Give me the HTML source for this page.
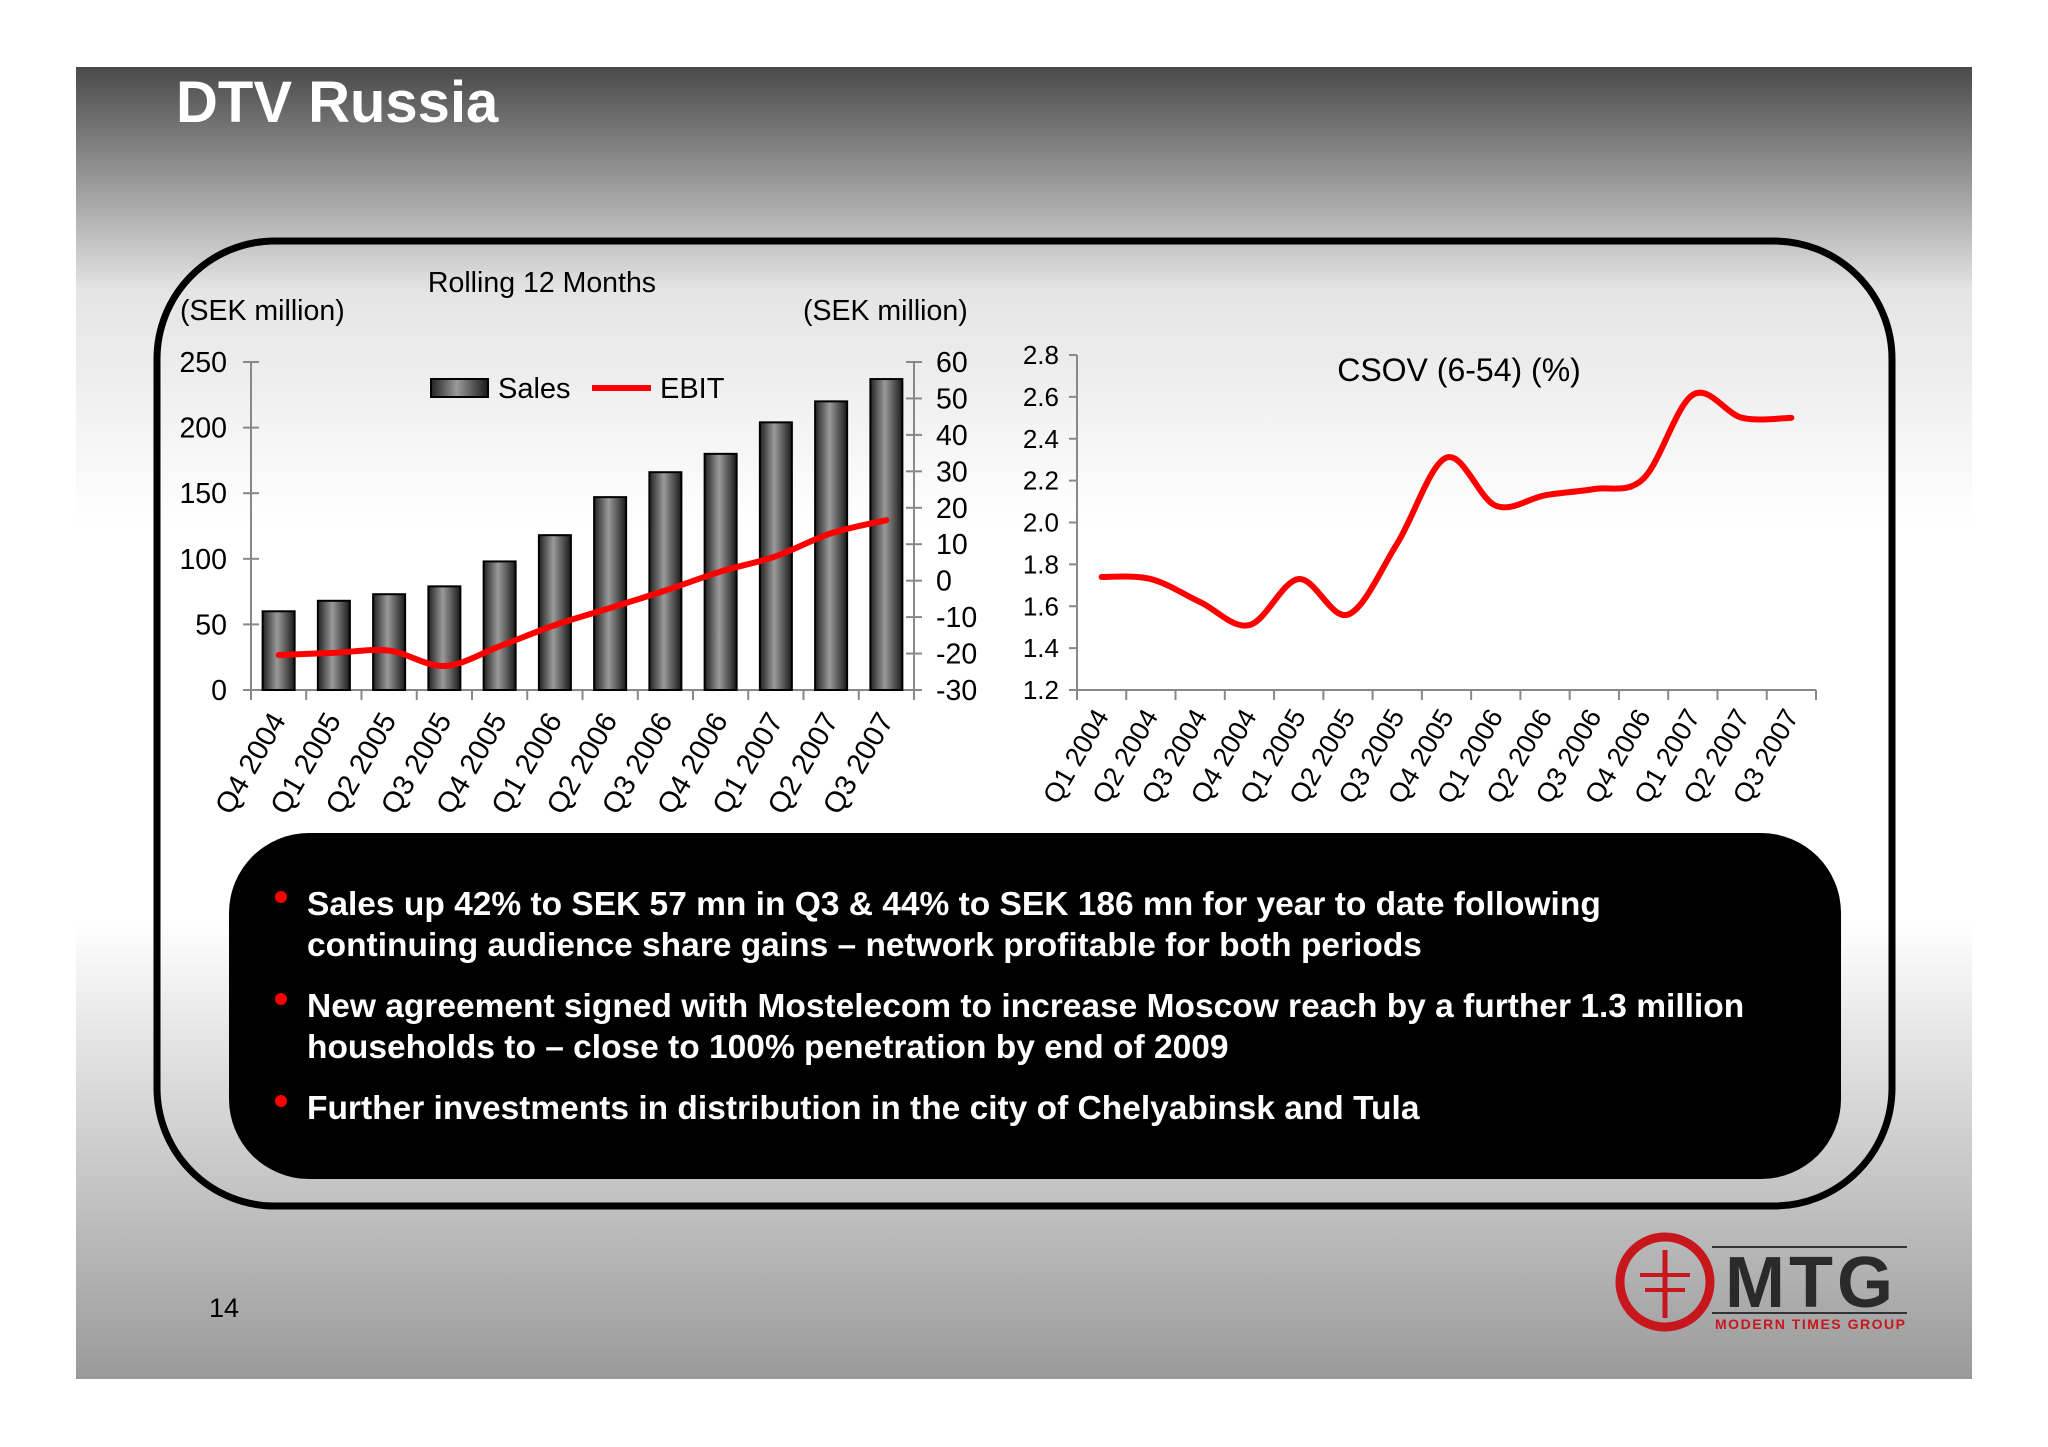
<!DOCTYPE html>
<html><head><meta charset="utf-8"><style>
html,body{margin:0;padding:0;background:#fff;}
svg{display:block;font-family:"Liberation Sans",Arial,sans-serif;}
</style></head><body>
<svg id="s" width="2048" height="1447" viewBox="0 0 2048 1447" xmlns="http://www.w3.org/2000/svg">
<defs>
<linearGradient id="bg" x1="0" y1="0" x2="0" y2="1">
<stop offset="0" stop-color="#4a4a4a"/><stop offset="0.17" stop-color="#e4e4e4"/><stop offset="0.35" stop-color="#fff"/><stop offset="0.65" stop-color="#fff"/><stop offset="1" stop-color="#9a9a9a"/>
</linearGradient>
<linearGradient id="bar" x1="0" y1="0" x2="1" y2="0">
<stop offset="0" stop-color="#222"/><stop offset="0.45" stop-color="#9a9a9a"/><stop offset="1" stop-color="#1a1a1a"/>
</linearGradient>
</defs>
<rect x="76" y="67" width="1896" height="1312" fill="url(#bg)"/>
<text x="176" y="122" font-size="58" font-weight="bold" fill="#fff">DTV Russia</text>
<rect x="157" y="241" width="1735" height="965" rx="118" fill="none" stroke="#000" stroke-width="7"/>

<g id="left">
<text x="542" y="292" font-size="28.5" text-anchor="middle">Rolling 12 Months</text>
<text x="180" y="320" font-size="28.5">(SEK million)</text>
<text x="803" y="320" font-size="28.5">(SEK million)</text>
<rect x="431" y="379" width="57" height="18" fill="url(#bar)" stroke="#000" stroke-width="2"/>
<text x="498" y="398" font-size="29">Sales</text>
<line x1="592" y1="388" x2="651" y2="388" stroke="#f00" stroke-width="6"/>
<text x="660" y="398" font-size="29">EBIT</text>
</g>
<g id="right">
<text x="1459" y="381" font-size="32" text-anchor="middle">CSOV (6-54) (%)</text>
</g>

<rect x="229" y="833" width="1612" height="346" rx="80" fill="#000"/>
<g font-size="33.5" font-weight="bold" fill="#fff">
<circle cx="281" cy="897" r="6" fill="#f00"/>
<text x="307" y="915">Sales up 42% to SEK 57 mn in Q3 &amp; 44% to SEK 186 mn for year to date following</text>
<text x="307" y="956">continuing audience share gains – network profitable for both periods</text>
<circle cx="281" cy="999" r="6" fill="#f00"/>
<text x="307" y="1017">New agreement signed with Mostelecom to increase Moscow reach by a further 1.3 million</text>
<text x="307" y="1058">households to – close to 100% penetration by end of 2009</text>
<circle cx="281" cy="1101" r="6" fill="#f00"/>
<text x="307" y="1119">Further investments in distribution in the city of Chelyabinsk and Tula</text>
</g>
<text x="209" y="1317" font-size="27">14</text>
<g>
<circle cx="1665" cy="1282" r="45" fill="none" stroke="#c8161d" stroke-width="9"/>
<line x1="1665" y1="1250" x2="1665" y2="1318" stroke="#c8161d" stroke-width="5"/>
<line x1="1640" y1="1275" x2="1690" y2="1275" stroke="#c8161d" stroke-width="4"/>
<line x1="1645" y1="1290" x2="1685" y2="1290" stroke="#c8161d" stroke-width="4"/>
<line x1="1712" y1="1247" x2="1907" y2="1247" stroke="#333" stroke-width="2"/>
<text x="1725" y="1307" font-size="72" font-weight="bold" fill="#2a2a2a" textLength="168">MTG</text>
<line x1="1712" y1="1313" x2="1907" y2="1313" stroke="#333" stroke-width="2"/>
<text x="1715" y="1329" font-size="14" font-weight="bold" fill="#c8161d" textLength="190">MODERN TIMES GROUP</text>
</g>
</svg>
<script>
const salesCats = ["Q4 2004","Q1 2005","Q2 2005","Q3 2005","Q4 2005","Q1 2006","Q2 2006","Q3 2006","Q4 2006","Q1 2007","Q2 2007","Q3 2007"];
const salesValues = [60,68,73,79,98,118,147,166,180,204,220,237];
const ebitValues = [-20.4,-19.8,-19.2,-23.4,-18,-12.2,-7.5,-2.7,2.5,6.7,13,16.6];
const salesTicks = [0,50,100,150,200,250];
const ebitTicks = [-30,-20,-10,0,10,20,30,40,50,60];
const csovCats = ["Q1 2004","Q2 2004","Q3 2004","Q4 2004","Q1 2005","Q2 2005","Q3 2005","Q4 2005","Q1 2006","Q2 2006","Q3 2006","Q4 2006","Q1 2007","Q2 2007","Q3 2007"];
const csovValues = [1.74,1.73,1.62,1.51,1.73,1.56,1.90,2.31,2.08,2.13,2.16,2.21,2.61,2.50,2.50];
const csovTicks = [1.2,1.4,1.6,1.8,2.0,2.2,2.4,2.6,2.8];

const NS="http://www.w3.org/2000/svg";
function mk(parent,tag,attrs,text){const e=document.createElementNS(NS,tag);for(const k in attrs)e.setAttribute(k,attrs[k]);if(text!==undefined)e.textContent=text;parent.appendChild(e);return e;}
function smooth(pts){let d="M"+pts[0][0]+","+pts[0][1];for(let i=0;i<pts.length-1;i++){const p0=pts[Math.max(0,i-1)],p1=pts[i],p2=pts[i+1],p3=pts[Math.min(pts.length-1,i+2)];const t=1/6;d+=" C"+(p1[0]+(p2[0]-p0[0])*t)+","+(p1[1]+(p2[1]-p0[1])*t)+" "+(p2[0]-(p3[0]-p1[0])*t)+","+(p2[1]-(p3[1]-p1[1])*t)+" "+p2[0]+","+p2[1];}return d;}

// left chart
const L=document.getElementById('left');
const lx0=251,lx1=914,ly0=690,ly1=362;
const band=(lx1-lx0)/salesCats.length;
const xL=i=>lx0+band*(i+0.5);
const yS=v=>ly0-(v-0)/(250-0)*(ly0-ly1);
const yE=v=>ly0-(v+30)/(90)*(ly0-ly1);
let a=mk(L,'line',{x1:lx0,y1:ly1,x2:lx0,y2:ly0,stroke:'#888','stroke-width':2});


a=mk(L,'line',{x1:lx1,y1:ly1,x2:lx1,y2:ly0,stroke:'#888','stroke-width':2});


a=mk(L,'line',{x1:lx0-8,y1:ly0,x2:lx1+8,y2:ly0,stroke:'#888','stroke-width':2});


salesTicks.forEach(v=>{const y=yS(v);mk(L,'line',{x1:lx0-8,y1:y,x2:lx0+8,y2:y,stroke:'#888','stroke-width':2});
const t=mk(L,'text',{x:lx0-24,y:y+10,'font-size':28.5,'text-anchor':'end'},String(v));

});
ebitTicks.forEach(v=>{const y=yE(v);mk(L,'line',{x1:lx1-8,y1:y,x2:lx1+8,y2:y,stroke:'#888','stroke-width':2});
const t=mk(L,'text',{x:lx1+22,y:y+10,'font-size':28.5},String(v));

});
for(let i=0;i<=salesCats.length;i++){const x=lx0+band*i;mk(L,'line',{x1:x,y1:ly0,x2:x,y2:ly0+10,stroke:'#888','stroke-width':2});}
salesValues.forEach((v,i)=>{const bw=32;const r=mk(L,'rect',{x:xL(i)-bw/2,y:yS(v),width:bw,height:ly0-yS(v),fill:'url(#bar)',stroke:'#000','stroke-width':2});

});
a=mk(L,'path',{d:smooth(ebitValues.map((v,i)=>[xL(i),yE(v)])),fill:'none',stroke:'#f00','stroke-width':6,'stroke-linecap':'round'});


salesCats.forEach((c,i)=>{const x=xL(i)+8,y=ly0+30;const t=mk(L,'text',{x:x,y:y,'font-size':29,'text-anchor':'end',transform:'rotate(-60 '+x+' '+y+')'},c);

});

// right chart
const R=document.getElementById('right');
const rx0=1077,rx1=1816,ry0=690,ry1=355;
const rb=(rx1-rx0)/csovCats.length;
const xR=i=>rx0+rb*(i+0.5);
const yR=v=>ry0-(v-1.2)/(1.6)*(ry0-ry1);
a=mk(R,'line',{x1:rx0,y1:ry1,x2:rx0,y2:ry0,stroke:'#888','stroke-width':2});


a=mk(R,'line',{x1:rx0-8,y1:ry0,x2:rx1,y2:ry0,stroke:'#888','stroke-width':2});


csovTicks.forEach(v=>{const y=yR(v);mk(R,'line',{x1:rx0-8,y1:y,x2:rx0,y2:y,stroke:'#888','stroke-width':2});
const t=mk(R,'text',{x:rx0-18,y:y+9,'font-size':26,'text-anchor':'end'},v.toFixed(1));

});
for(let i=0;i<=csovCats.length;i++){const x=rx0+rb*i;mk(R,'line',{x1:x,y1:ry0,x2:x,y2:ry0+10,stroke:'#888','stroke-width':2});}
a=mk(R,'path',{d:smooth(csovValues.map((v,i)=>[xR(i),yR(v)])),fill:'none',stroke:'#f00','stroke-width':6,'stroke-linecap':'round'});


csovCats.forEach((c,i)=>{const x=xR(i)+8,y=ry0+26;const t=mk(R,'text',{x:x,y:y,'font-size':27,'text-anchor':'end',transform:'rotate(-60 '+x+' '+y+')'},c);

});
</script>
</body></html>
